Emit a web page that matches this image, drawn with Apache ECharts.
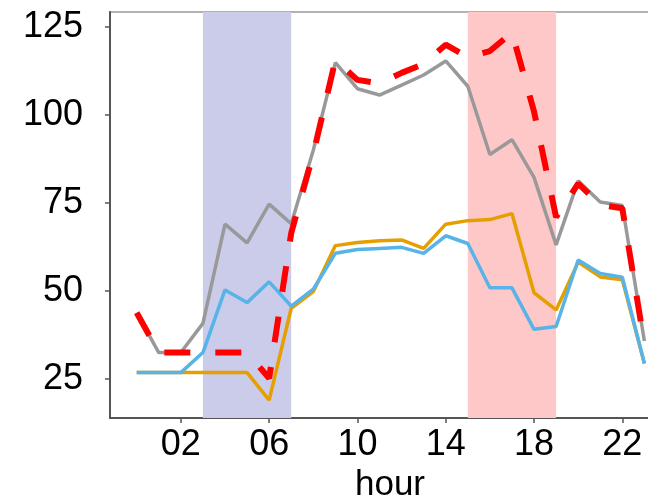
<!DOCTYPE html>
<html>
<head>
<meta charset="utf-8">
<script src="https://cdn.jsdelivr.net/npm/echarts@6/dist/echarts.min.js"></script>
<style>
html,body{margin:0;padding:0;background:#fff;}
#chart{width:648px;height:498px;}
</style>
</head>
<body>
<div id="chart"></div>
<script>
const hours = [0,1,2,3,4,5,6,7,8,9,10,11,12,13,14,15,16,17,18,19,20,21,22,23];
const grayValues = [43.8,32.5,32.5,40.8,69.0,63.7,74.7,69.1,90.0,114.9,107.5,105.7,108.5,111.4,115.4,108.2,88.8,93.0,82.3,63.1,81.3,75.3,74.3,35.8];
const redValues = [43.8,32.5,32.5,32.5,32.5,32.5,25.2,66.5,89.0,115.6,110.0,109.0,112.0,114.5,120.0,116.5,118.2,123.5,101.0,71.0,80.5,74.5,73.5,35.0];
const orangeValues = [26.8,26.8,26.8,26.8,26.8,26.8,19.0,45.1,49.8,62.9,63.8,64.3,64.5,62.1,69.0,70.0,70.3,72.0,49.5,44.6,58.2,54.0,53.2,29.4];
const blueValues = [26.8,26.8,26.8,32.5,50.3,46.7,52.6,45.7,50.5,60.7,61.8,62.1,62.4,60.7,65.7,63.5,50.9,50.9,39.1,39.9,58.8,55.0,53.9,29.4];
const xTicks = [2,6,10,14,18,22];
const yTicks = [25,50,75,100,125];
const blueSpan = [3,7];
const redSpan = [15,19];

const pairs = vals => hours.map((h,i)=>[h, vals[i]]);
const font = 'Liberation Sans, Arial, sans-serif';

const chart = echarts.init(document.getElementById('chart'), null, {renderer:'canvas'});
chart.setOption({
  animation:false,
  backgroundColor:'#fff',
  grid:{left:110, right:-22, top:12, bottom:80, outerBoundsMode:'none', containLabel:false,
    show:true, borderColor:'#999', borderWidth:1.5, backgroundColor:'transparent'},
  xAxis:{
    type:'value', min:-1.21, max:24.16,
    name:'hour', nameLocation:'middle', nameGap:41,
    nameTextStyle:{fontSize:35, color:'#000', fontFamily:font},
    axisLine:{show:true, onZero:false, lineStyle:{color:'#555', width:2}},
    axisTick:{show:true, length:5, lineStyle:{color:'#555', width:1.5}, customValues:xTicks},
    axisLabel:{fontSize:36, color:'#000', fontFamily:font, margin:9, customValues:xTicks,
      formatter:v => (v<10?'0':'')+v},
    splitLine:{show:false}
  },
  yAxis:{
    type:'value', min:13.9, max:129.3,
    axisLine:{show:true, onZero:false, lineStyle:{color:'#555', width:2}},
    axisTick:{show:true, length:5, lineStyle:{color:'#555', width:1.5}, customValues:yTicks},
    axisLabel:{fontSize:36, color:'#000', fontFamily:font, margin:27, customValues:yTicks},
    splitLine:{show:false}
  },
  series:[
    {type:'line', data:pairs(grayValues), showSymbol:false, z:2,
      lineStyle:{color:'#999999', width:3.5},
      markArea:{silent:true, z:1, itemStyle:{opacity:1},
        data:[
          [{xAxis:blueSpan[0], itemStyle:{color:'#cbcbea'}},{xAxis:blueSpan[1]}],
          [{xAxis:redSpan[0], itemStyle:{color:'#ffc8c8'}},{xAxis:redSpan[1]}]
        ]}
    },
    {type:'line', data:pairs(orangeValues), showSymbol:false, z:3,
      lineStyle:{color:'#E69F00', width:3.5}},
    {type:'line', data:pairs(blueValues), showSymbol:false, z:4,
      lineStyle:{color:'#56B4E9', width:3.5}},
    {type:'line', data:pairs(redValues), showSymbol:false, z:5,
      lineStyle:{color:'#ff0000', width:6, type:[26,25], cap:'butt'}}
  ]
});
</script>
</body>
</html>
